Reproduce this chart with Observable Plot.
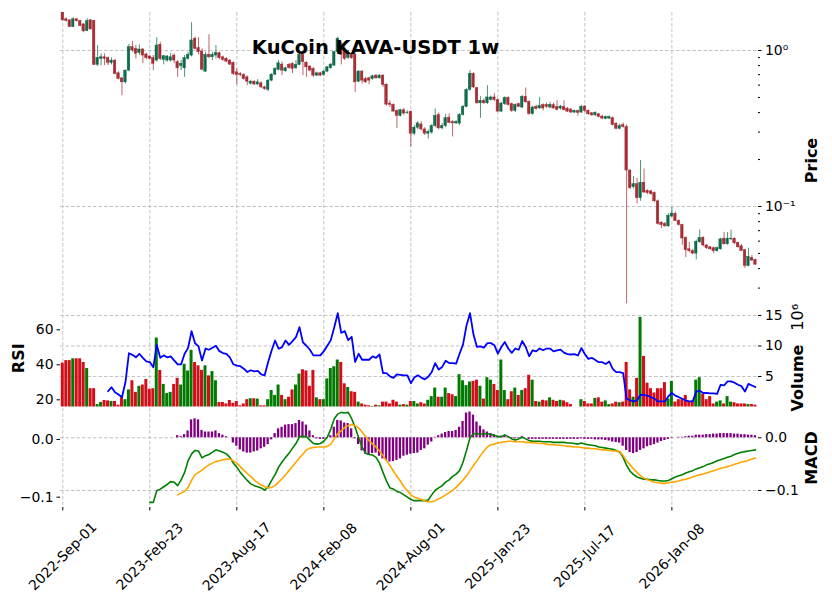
<!DOCTYPE html>
<html><head><meta charset="utf-8">
<script src="https://cdn.jsdelivr.net/npm/d3@7"></script>
<script src="https://cdn.jsdelivr.net/npm/@observablehq/plot@0.6"></script>
<style>
body{margin:0;background:#fff}
#wrap{position:relative;width:832px;height:599px;overflow:hidden;background:#fff}
#wrap svg{position:absolute;left:0;top:0;background:transparent;overflow:visible}
</style></head><body><div id="wrap"></div>
<script>
const tickIdx = [0,25,50,75,100,125,150,175];
const tickLabels = ["2022-Sep-01","2023-Feb-23","2023-Aug-17","2024-Feb-08","2024-Aug-01","2025-Jan-23","2025-Jul-17","2026-Jan-08"];

const opens = [
1.78,1.585,1.561,1.413,1.585,1.545,1.471,1.33,1.561,1.545,
0.809,0.884,0.905,0.892,0.83,0.862,0.714,0.663,0.625,0.743,
1.050,1.025,0.966,1.015,0.942,0.915,0.892,0.862,1.088,0.871,
0.862,0.862,0.928,0.841,0.794,0.769,0.884,0.928,1.19,1.035,
0.985,0.732,0.938,0.905,0.928,0.96,0.905,0.884,0.862,0.833,
0.725,0.707,0.697,0.673,0.613,0.631,0.606,0.616,0.580,0.560,
0.641,0.700,0.751,0.812,0.736,0.809,0.821,0.769,0.809,0.938,
0.833,0.789,0.762,0.690,0.714,0.697,0.732,0.769,0.800,0.975,
1.035,1.000,0.897,0.952,0.938,0.631,0.732,0.657,0.663,0.657,
0.690,0.663,0.690,0.604,0.457,0.448,0.410,0.381,0.414,0.397,
0.404,0.293,0.320,0.336,0.312,0.293,0.298,0.328,0.385,0.317,
0.328,0.371,0.348,0.341,0.340,0.386,0.435,0.558,0.707,0.574,
0.459,0.476,0.459,0.481,0.500,0.481,0.406,0.453,0.496,0.453,
0.410,0.453,0.431,0.505,0.469,0.391,0.435,0.425,0.446,0.448,
0.431,0.446,0.435,0.424,0.435,0.424,0.418,0.400,0.410,0.400,
0.437,0.410,0.396,0.384,0.390,0.377,0.364,0.366,0.368,0.339,
0.315,0.332,0.323,0.170,0.133,0.139,0.113,0.142,0.126,0.125,
0.122,0.108,0.0788,0.0773,0.0747,0.0862,0.0897,0.0810,0.0761,0.0630,
0.0532,0.0519,0.0499,0.0590,0.0630,0.0563,0.0548,0.0541,0.0517,0.0532,
0.0622,0.0573,0.0616,0.0622,0.0585,0.0556,0.0525,0.0416,0.0469,0.0455];

const highs = [
1.80,1.616,1.57,1.62,1.60,1.56,1.48,1.60,1.58,1.56,
1.077,0.952,0.952,0.91,0.897,0.87,0.73,0.67,0.75,1.093,
1.143,1.077,1.088,1.03,0.96,0.93,0.928,1.208,1.131,0.93,
0.93,0.956,0.952,0.86,0.862,0.928,0.975,1.509,1.219,1.208,
1.025,0.975,1.263,0.975,1.077,0.975,0.92,0.90,0.875,0.845,
0.762,0.72,0.71,0.685,0.645,0.64,0.65,0.63,0.59,0.65,
0.71,0.775,0.862,0.841,0.78,0.825,0.835,0.862,0.971,0.96,
0.85,0.80,0.775,0.725,0.725,0.745,0.79,0.825,0.99,1.219,
1.131,1.131,1.0,0.97,0.95,0.745,0.745,0.67,0.675,0.695,
0.70,0.70,0.70,0.61,0.476,0.455,0.415,0.42,0.425,0.41,
0.41,0.33,0.35,0.35,0.32,0.31,0.335,0.422,0.398,0.34,
0.39,0.392,0.355,0.355,0.395,0.445,0.57,0.743,0.72,0.58,
0.505,0.49,0.595,0.51,0.528,0.49,0.465,0.505,0.505,0.46,
0.455,0.46,0.515,0.575,0.475,0.44,0.445,0.50,0.455,0.46,
0.465,0.46,0.476,0.445,0.476,0.43,0.425,0.415,0.415,0.445,
0.445,0.415,0.40,0.405,0.395,0.385,0.38,0.38,0.375,0.345,
0.338,0.343,0.333,0.172,0.156,0.152,0.197,0.174,0.128,0.127,
0.124,0.110,0.080,0.079,0.090,0.0985,0.092,0.082,0.077,0.064,
0.0588,0.053,0.061,0.0707,0.064,0.057,0.0555,0.055,0.055,0.0625,
0.0683,0.068,0.0707,0.063,0.059,0.057,0.053,0.0541,0.0485,0.046];

const lows = [
1.54,1.522,1.40,1.40,1.52,1.42,1.30,1.32,1.35,0.80,
0.792,0.80,0.80,0.80,0.809,0.70,0.65,0.512,0.61,0.73,
0.975,0.884,0.928,0.824,0.87,0.87,0.743,0.841,0.862,0.809,
0.84,0.84,0.821,0.673,0.743,0.673,0.87,0.91,1.01,0.938,
0.743,0.725,0.884,0.862,0.884,0.87,0.85,0.835,0.80,0.69,
0.601,0.68,0.645,0.595,0.60,0.595,0.595,0.57,0.555,0.544,
0.63,0.69,0.74,0.690,0.725,0.76,0.711,0.755,0.80,0.690,
0.673,0.73,0.673,0.68,0.68,0.685,0.72,0.76,0.79,0.96,
0.809,0.862,0.875,0.875,0.538,0.62,0.610,0.615,0.604,0.645,
0.655,0.655,0.580,0.44,0.431,0.40,0.317,0.375,0.385,0.39,
0.241,0.285,0.31,0.305,0.285,0.271,0.29,0.32,0.31,0.31,
0.32,0.34,0.279,0.335,0.33,0.38,0.43,0.55,0.57,0.45,
0.368,0.45,0.45,0.475,0.47,0.40,0.40,0.445,0.44,0.40,
0.40,0.43,0.425,0.46,0.385,0.385,0.415,0.42,0.41,0.425,
0.425,0.42,0.41,0.415,0.41,0.40,0.395,0.395,0.38,0.395,
0.40,0.385,0.378,0.378,0.37,0.36,0.36,0.36,0.328,0.31,
0.31,0.318,0.0238,0.128,0.130,0.104,0.108,0.121,0.119,0.118,
0.106,0.076,0.072,0.0735,0.0735,0.085,0.080,0.075,0.0565,0.0471,
0.0505,0.049,0.0455,0.058,0.055,0.053,0.0525,0.0499,0.051,0.0525,
0.0565,0.0565,0.0605,0.057,0.054,0.0515,0.040,0.041,0.0445,0.042];

const closes = [
1.561,1.545,1.413,1.585,1.54,1.435,1.326,1.54,1.366,0.809,
0.897,0.905,0.884,0.833,0.862,0.707,0.657,0.625,0.743,1.050,
1.000,0.952,1.015,0.928,0.892,0.884,0.821,1.077,0.884,0.919,
0.915,0.905,0.862,0.769,0.821,0.892,0.938,1.160,1.025,0.975,
0.754,0.938,0.905,0.938,0.966,0.892,0.871,0.849,0.812,0.707,
0.697,0.697,0.657,0.631,0.631,0.606,0.625,0.580,0.566,0.641,
0.700,0.762,0.828,0.743,0.769,0.773,0.762,0.809,0.938,0.841,
0.780,0.743,0.690,0.714,0.690,0.732,0.780,0.812,0.975,1.190,
0.938,0.884,0.952,0.892,0.625,0.732,0.641,0.625,0.641,0.683,
0.663,0.690,0.601,0.450,0.448,0.406,0.381,0.414,0.394,0.400,
0.293,0.320,0.341,0.312,0.293,0.300,0.328,0.381,0.317,0.328,
0.368,0.344,0.341,0.348,0.386,0.435,0.558,0.707,0.580,0.459,
0.476,0.459,0.500,0.500,0.481,0.406,0.457,0.496,0.448,0.410,
0.448,0.435,0.505,0.465,0.391,0.431,0.422,0.441,0.425,0.435,
0.448,0.425,0.416,0.437,0.414,0.406,0.400,0.410,0.398,0.435,
0.410,0.390,0.384,0.398,0.375,0.366,0.375,0.375,0.333,0.315,
0.328,0.323,0.170,0.131,0.139,0.113,0.142,0.123,0.122,0.120,
0.108,0.0773,0.0761,0.0747,0.0873,0.0901,0.0808,0.0761,0.0624,0.0525,
0.0517,0.0499,0.0594,0.0630,0.0563,0.0541,0.0532,0.0517,0.0541,0.0616,
0.0573,0.0622,0.0622,0.0581,0.0548,0.0519,0.0416,0.0476,0.0450,0.0424];

// volume in millions
const volumes = [
7.2,7.6,7.6,7.9,7.9,7.9,7.3,6.3,3.0,3.0,
0.4,0.74,1.07,1.0,0.9,0.9,0.3,1.5,1.2,2.8,
4.3,2.4,3.4,3.6,4.5,2.9,3.0,11.3,6.0,3.7,
2.2,2.4,3.7,4.7,3.6,7.0,5.9,9.3,7.3,6.75,
6.0,6.75,5.1,5.8,4.3,0.74,0.74,0.5,1.07,0.6,
0.9,0.2,0.5,1.2,1.35,1.35,1.3,0.2,0.2,1.2,
2.7,1.9,3.6,1.9,1.2,1.6,2.8,3.6,5.4,6.1,
5.9,3.4,6.0,1.5,1.2,1.2,4.6,6.3,6.6,7.7,
7.3,3.8,3.2,2.5,2.4,0.8,0.5,0.3,0.2,0.1,
0.3,0.2,0.8,0.8,0.5,1.1,0.8,0.3,0.4,0.3,
0.9,0.9,0.5,0.7,0.5,1.1,1.7,3.1,1.6,1.6,
3.1,2.2,2.0,1.7,5.3,4.3,3.5,4.1,4.2,4.4,
3.4,1.3,4.8,4.4,3.7,2.7,7.7,2.7,1.2,2.5,
3.1,1.9,2.7,3.0,5.2,4.4,0.9,0.8,1.1,1.0,
1.5,1.1,0.9,1.1,1.0,0.7,0.4,0,0,1.2,
0.9,0.5,0.5,1.4,1.5,0.8,1.0,0.4,0.5,0.8,
0.7,0.8,7.3,2.8,1.6,4.7,14.7,8.3,3.9,3.0,
2.3,3.0,3.0,4.0,1.3,4.2,0.8,1.2,1.2,1.9,
0.8,1.0,4.4,4.8,2.1,1.2,1.7,0.5,0.8,1.0,
0.5,1.7,0.8,0.7,0.5,0.5,0.5,0.4,0.4,0.3];

const rsi = [
null,null,null,null,null,null,null,null,null,null,
null,null,null,24.9,27.2,24.3,23.0,21.5,30.0,46.6,
45.7,44.3,46.3,44.0,42.0,41.6,38.6,51.4,44.0,45.4,
44.3,44.8,42.5,40.3,40.3,46.3,49.7,59.2,52.3,50.5,
42.5,49.2,48.6,49.7,50.9,47.8,46.7,46.3,44.3,40.3,
39.5,39.2,37.8,35.9,36.9,36.3,36.5,34.6,34.0,41.6,
48.2,53.9,49.2,50.1,53.9,51.4,53.5,55.8,61.5,52.8,
50.9,48.6,45.4,45.4,45.4,47.8,50.9,54.1,61.5,69.5,
58.2,59.3,54.1,56.0,41.6,46.3,42.9,42.9,42.9,44.8,
44.0,45.9,35.3,35.3,33.4,32.5,34.6,34.3,34.0,34.0,
29.5,32.7,34.0,32.7,31.7,33.2,35.9,41.0,37.3,38.8,
42.3,41.0,41.0,40.7,46.3,51.7,62.5,69.5,57.3,50.2,
50.5,49.8,52.4,52.4,51.2,46.4,50.2,53.0,49.3,46.8,
49.3,48.6,53.6,50.2,44.9,48.3,47.7,49.3,48.3,49.3,
49.3,47.7,48.3,48.7,47.0,46.1,45.9,46.1,45.3,49.6,
46.2,43.4,44.0,42.8,41.5,41.5,40.5,41.9,37.7,35.8,
35.8,35.2,20.6,19.7,19.1,19.7,22.9,22.7,22.4,21.5,
20.6,19.1,19.1,19.1,22.1,23.9,22.4,21.5,20.6,19.6,
19.1,19.1,24.7,25.2,23.9,23.9,23.7,23.7,23.4,28.6,
28.2,30.5,30.5,29.8,28.6,27.8,24.7,29.1,28.2,27.3];

const macd = [
null,null,null,null,null,null,null,null,null,null,
null,null,null,null,null,null,null,null,null,null,
null,null,null,null,null,-0.109,-0.109,-0.089,-0.086,-0.082,
-0.078,-0.073,-0.074,-0.080,-0.070,-0.057,-0.037,-0.025,-0.019,-0.020,
-0.032,-0.028,-0.026,-0.022,-0.018,-0.020,-0.022,-0.025,-0.031,-0.041,
-0.048,-0.057,-0.064,-0.071,-0.077,-0.080,-0.082,-0.084,-0.088,-0.082,
-0.071,-0.061,-0.048,-0.039,-0.031,-0.024,-0.015,-0.007,0.005,0.005,
0.005,-0.001,-0.007,-0.008,-0.007,-0.003,0.004,0.018,0.036,0.044,
0.047,0.046,0.047,0.036,0.021,0.003,-0.013,-0.024,-0.026,-0.027,
-0.031,-0.041,-0.057,-0.072,-0.084,-0.086,-0.090,-0.092,-0.096,-0.100,
-0.104,-0.106,-0.106,-0.106,-0.106,-0.105,-0.096,-0.088,-0.084,-0.080,
-0.074,-0.070,-0.064,-0.060,-0.054,-0.039,-0.019,0.003,0.010,0.010,
0.009,0.010,0.010,0.009,0.007,0.005,0.005,0.008,0.005,0.001,
-0.001,0.001,0.004,0.001,-0.002,-0.003,-0.003,-0.003,-0.004,-0.004,
-0.004,-0.005,-0.005,-0.005,-0.005,-0.006,-0.006,-0.007,-0.008,-0.006,
-0.008,-0.009,-0.010,-0.011,-0.013,-0.014,-0.015,-0.016,-0.017,-0.019,
-0.022,-0.031,-0.045,-0.055,-0.061,-0.065,-0.067,-0.069,-0.069,-0.070,
-0.070,-0.071,-0.072,-0.072,-0.071,-0.068,-0.065,-0.063,-0.061,-0.058,
-0.056,-0.054,-0.051,-0.049,-0.047,-0.044,-0.042,-0.040,-0.037,-0.035,
-0.033,-0.031,-0.029,-0.026,-0.024,-0.022,-0.021,-0.020,-0.019,-0.018];

const signal = [
null,null,null,null,null,null,null,null,null,null,
null,null,null,null,null,null,null,null,null,null,
null,null,null,null,null,null,null,null,null,null,
null,null,null,-0.096,-0.093,-0.090,-0.083,-0.071,-0.061,-0.057,
-0.053,-0.048,-0.044,-0.041,-0.038,-0.037,-0.035,-0.034,-0.034,-0.037,
-0.041,-0.047,-0.053,-0.059,-0.064,-0.070,-0.075,-0.079,-0.082,-0.084,
-0.083,-0.080,-0.074,-0.068,-0.061,-0.054,-0.047,-0.039,-0.032,-0.025,
-0.018,-0.015,-0.014,-0.013,-0.013,-0.013,-0.012,-0.008,0.001,0.010,
0.015,0.021,0.024,0.026,0.024,0.020,0.013,0.005,-0.002,-0.008,
-0.013,-0.020,-0.028,-0.037,-0.045,-0.055,-0.064,-0.072,-0.082,-0.089,
-0.096,-0.100,-0.102,-0.104,-0.106,-0.108,-0.108,-0.106,-0.103,-0.100,
-0.096,-0.092,-0.088,-0.083,-0.077,-0.070,-0.063,-0.054,-0.045,-0.037,
-0.028,-0.020,-0.013,-0.009,-0.008,-0.006,-0.005,-0.004,-0.003,-0.003,
-0.004,-0.004,-0.004,-0.005,-0.005,-0.006,-0.006,-0.007,-0.007,-0.008,
-0.009,-0.009,-0.010,-0.010,-0.011,-0.012,-0.012,-0.013,-0.013,-0.014,
-0.015,-0.015,-0.016,-0.016,-0.017,-0.018,-0.018,-0.019,-0.020,-0.020,
-0.021,-0.028,-0.037,-0.044,-0.051,-0.057,-0.063,-0.067,-0.070,-0.072,
-0.074,-0.075,-0.076,-0.076,-0.075,-0.074,-0.073,-0.072,-0.070,-0.069,
-0.067,-0.065,-0.063,-0.061,-0.060,-0.058,-0.056,-0.054,-0.052,-0.050,
-0.049,-0.047,-0.045,-0.043,-0.041,-0.039,-0.038,-0.036,-0.034,-0.032];

const hist = [
null,null,null,null,null,null,null,null,null,null,
null,null,null,null,null,null,null,null,null,null,
null,null,null,null,null,null,null,null,null,null,
null,null,null,0.004,0.002,0.006,0.013,0.034,0.036,0.034,
0.014,0.011,0.011,0.011,0.013,0.008,0.005,0.002,0.000,-0.010,
-0.016,-0.023,-0.027,-0.029,-0.029,-0.027,-0.025,-0.021,-0.018,-0.013,
-0.004,0.008,0.017,0.020,0.024,0.025,0.025,0.027,0.033,0.030,
0.024,0.013,0.004,-0.002,-0.003,-0.003,-0.001,0.004,0.020,0.033,
0.032,0.028,0.027,0.017,-0.002,-0.013,-0.025,-0.031,-0.033,-0.030,
-0.029,-0.035,-0.040,-0.043,-0.046,-0.045,-0.043,-0.040,-0.035,-0.033,
-0.031,-0.030,-0.029,-0.024,-0.021,-0.014,-0.008,0.001,0.004,0.007,
0.010,0.012,0.012,0.014,0.020,0.031,0.047,0.049,0.043,0.030,
0.022,0.015,0.011,0.008,0.006,0.003,0.003,0.004,0.001,-0.002,
-0.002,-0.001,0.002,0.000,-0.003,-0.003,-0.003,-0.003,-0.003,-0.003,
-0.003,-0.003,-0.003,-0.003,-0.003,-0.003,-0.003,-0.003,-0.003,-0.002,
-0.003,-0.003,-0.003,-0.004,-0.004,-0.004,-0.005,-0.006,-0.008,-0.009,
-0.010,-0.016,-0.024,-0.028,-0.030,-0.028,-0.024,-0.021,-0.017,-0.015,
-0.013,-0.010,-0.007,-0.005,-0.003,-0.001,0.000,0.001,0.001,0.002,
0.003,0.003,0.005,0.005,0.005,0.006,0.006,0.007,0.007,0.008,
0.008,0.008,0.008,0.007,0.007,0.006,0.006,0.005,0.005,0.004];

// ---------- build ----------
const UP = "#006340", DOWN = "#A02128", VUP = "#007a00", VDOWN = "#d50d18";
const candles = opens.map((o, i) => ({i, open: o, high: highs[i], low: lows[i], close: closes[i], vol: volumes[i],
  rsi: rsi[i], macd: macd[i], signal: signal[i], hist: hist[i]}));
const W = 832, H = 599, ML = 60, MR = 75;
const xDom = [-0.66, 199.6];
const GRID = {stroke: "#b4b4b4", strokeWidth: 0.8, strokeDasharray: "3.5,2"};
const FS = 13.9;
const styleBase = {fontFamily: "DejaVu Sans", fontSize: FS + "px", background: "transparent", overflow: "visible"};
const wrap = document.getElementById("wrap");

function panel(top, bottom, yOpts, marks) {
  const svg = Plot.plot({
    width: W, height: H, marginLeft: ML, marginRight: MR, marginTop: top, marginBottom: H - bottom,
    x: {domain: xDom, axis: null},
    y: {...yOpts, axis: null},
    color: {type: "identity"},
    style: styleBase,
    marks
  });
  wrap.appendChild(svg);
  return svg;
}
const vGrid = Plot.ruleX(tickIdx, GRID);
const LBL = {frameAnchor: "right", rotate: -90, fontSize: 16, textAnchor: "middle", lineAnchor: "middle"};

// Price panel
const minorTicks = [0.9,0.8,0.7,0.6,0.5,0.4,0.3,0.2,0.09,0.08,0.07,0.06,0.05,0.04,0.03];
panel(12, 308, {type: "log", domain: [0.0222, 1.752]}, [
  vGrid,
  Plot.ruleY([1, 0.1], GRID),
  Plot.ruleX(candles, {x: "i", y1: "low", y2: "high", stroke: d => d.close >= d.open ? UP : DOWN, strokeWidth: 1, strokeOpacity: 0.7, clip: true}),
  Plot.rect(candles, {x1: d => d.i - 0.36, x2: d => d.i + 0.36, y1: "open", y2: "close",
    fill: d => d.close >= d.open ? UP : DOWN, stroke: d => d.close >= d.open ? UP : DOWN, strokeWidth: 0.5, fillOpacity: 0.9, strokeOpacity: 0.9, clip: true}),
  Plot.axisY([1, 0.1], {anchor: "right", label: null, tickSize: 3.5, tickPadding: 4, fontSize: FS, tickFormat: d => d === 1 ? "10⁰" : "10⁻¹"}),
  Plot.axisY(minorTicks, {anchor: "right", label: null, tickSize: 2, tickFormat: () => ""}),
  Plot.text(["KuCoin KAVA-USDT 1w"], {text: d => d, frameAnchor: "top", dx: -33.5, dy: 35, fontWeight: "bold", fontSize: 19.5, textAnchor: "middle", lineAnchor: "middle"}),
  Plot.text(["Price"], {...LBL, text: d => d, dx: 54.5, fontWeight: "bold"})
]);

// Volume (right axis, primary grid)
panel(309, 406.5, {domain: [0, 15.98]}, [
  vGrid,
  Plot.ruleY([5, 10, 15], GRID),
  Plot.rectY(candles, {x1: d => d.i - 0.43, x2: d => d.i + 0.43, y: "vol", fill: d => d.close >= d.open ? VUP : VDOWN}),
  Plot.axisY([5, 10, 15], {anchor: "right", label: null, tickSize: 3.5, tickPadding: 4, fontSize: FS, tickFormat: d => String(d)}),
  Plot.text(["Volume"], {...LBL, text: d => d, dx: 40, dy: 19.75, fontWeight: "bold"}),
  Plot.text(["10⁶"], {...LBL, text: d => d, dx: 40, dy: -41})
]);

// RSI (left axis)
panel(309, 406.5, {domain: [15.9, 71.6]}, [
  Plot.line(candles, {x: "i", y: "rsi", stroke: "#0000ff", strokeWidth: 1.8}),
  Plot.axisY([20, 40, 60], {anchor: "left", label: null, tickSize: 3.5, tickPadding: 3.5, fontSize: FS, tickFormat: d => String(d)}),
  Plot.text(["RSI"], {...LBL, frameAnchor: "left", text: d => d, dx: -42, fontWeight: "bold"})
]);

// MACD histogram (right axis, primary grid) + date axis
panel(408, 507, {domain: [-0.1323, 0.0556]}, [
  vGrid,
  Plot.ruleY([0, -0.1], GRID),
  Plot.rectY(candles, {x1: d => d.i - 0.33, x2: d => d.i + 0.33, y: "hist", fill: "#800080"}),
  Plot.axisY([0, -0.1], {anchor: "right", label: null, tickSize: 3.5, tickPadding: 4, fontSize: FS, tickFormat: d => d === 0 ? "0.0" : "−0.1"}),
  Plot.axisX(tickIdx, {anchor: "bottom", label: null, tickSize: 3.5, tickFormat: () => ""}),
  Plot.text(tickIdx, {x: d => d, text: (d, i) => tickLabels[i], frameAnchor: "bottom", dy: 49, rotate: -45, textAnchor: "middle", lineAnchor: "middle", fontSize: FS}),
  Plot.text(["MACD"], {...LBL, text: d => d, dx: 54.5, fontWeight: "bold"})
]);

// MACD lines (left axis)
panel(408, 507, {domain: [-0.1179, 0.0537]}, [
  Plot.line(candles, {x: "i", y: "macd", stroke: "#008000", strokeWidth: 1.6}),
  Plot.line(candles, {x: "i", y: "signal", stroke: "#ffa500", strokeWidth: 1.6}),
  Plot.axisY([0, -0.1], {anchor: "left", label: null, tickSize: 3.5, tickPadding: 3.5, fontSize: FS, tickFormat: d => d === 0 ? "0.0" : "−0.1"})
]);
</script></body></html>
